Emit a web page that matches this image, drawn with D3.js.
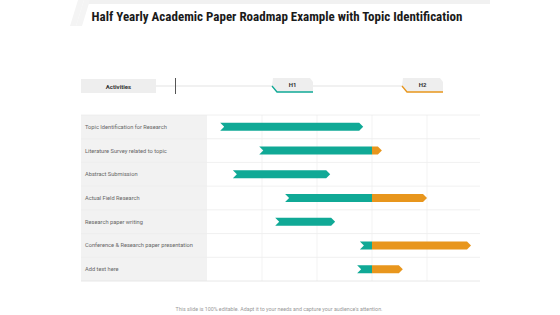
<!DOCTYPE html>
<html>
<head>
<meta charset="utf-8">
<script src="https://cdn.jsdelivr.net/npm/d3@7"></script>
<style>
  body { margin: 0; background: #fff; }
  svg { display: block; }
</style>
</head>
<body>
<div id="chart"></div>
<script>
// Data (timeline measured in grid columns, H1 ends at column 3)
const activities = [
    "Topic Identification for Research",
    "Literature Survey related to topic",
    "Abstract Submission",
    "Actual Field Research",
    "Research paper writing",
    "Conference & Research paper presentation",
    "Add text here"
];
const startValues = [0.24, 0.95, 0.47, 1.42, 1.24, 2.78, 2.73];
const endValues = [2.84, 3.18, 2.24, 4.0, 2.33, 4.8, 3.56];
const halves = ["H1", "H2"];
const halfSplit = 3;

const width = 560, height = 315;
const teal = "#10a996", orange = "#e8961d";

const svg = d3.select("#chart").append("svg")
    .attr("width", width)
    .attr("height", height);

// top banner + faint stripes
svg.append("rect")
    .attr("x", 84).attr("y", 0)
    .attr("width", 406).attr("height", 4)
    .attr("fill", "#f1f1f1");
[0, 6].forEach(off => {
    svg.append("path")
        .attr("d", `M${78 + off},0 L${84 + off},0 L${76 + off},26 L${70 + off},26 Z`)
        .attr("fill", "#f4f4f4");
});

// title
svg.append("text")
    .attr("x", 277).attr("y", 21)
    .attr("text-anchor", "middle")
    .style("font-family", "'Liberation Sans Narrow', 'Roboto Condensed', sans-serif")
    .style("font-weight", "bold")
    .style("font-size", "13px")
    .attr("fill", "#1a1a1a")
    .text("Half Yearly Academic Paper Roadmap Example with Topic Identification");

// scales
const x = d3.scaleLinear().domain([0, 5]).range([207, 482]);
const y = d3.scaleBand().domain(activities).range([115, 281]);

// header row
svg.append("line")
    .attr("x1", 156).attr("x2", 402).attr("y1", 86).attr("y2", 86)
    .attr("stroke", "#dcdcdc").attr("stroke-width", 0.8);
svg.append("rect")
    .attr("x", 81).attr("y", 79).attr("width", 75).attr("height", 14)
    .attr("fill", "#eeeeee");
svg.append("text")
    .attr("x", 118.5).attr("y", 88.5)
    .attr("text-anchor", "middle")
    .style("font-family", "Roboto, sans-serif")
    .style("font-weight", "bold")
    .style("font-size", "6px")
    .attr("fill", "#333")
    .text("Activities");
svg.append("line")
    .attr("x1", 175.5).attr("x2", 175.5).attr("y1", 78).attr("y2", 94)
    .attr("stroke", "#555").attr("stroke-width", 1);

const tagX = [272, 402];
const tagColors = [teal, orange];
halves.forEach((h, i) => {
    const tx = tagX[i];
    const g = svg.append("g").attr("transform", `translate(${tx},78)`);
    g.append("path")
        .attr("d", "M1,0 L38,0 L41,4 L41,14 L5,14 L0,8 Z")
        .attr("fill", "#eeeeee");
    g.append("path")
        .attr("d", "M0,8 L5,14 L41,14")
        .attr("fill", "none")
        .attr("stroke", tagColors[i])
        .attr("stroke-width", 1.3);
    g.append("text")
        .attr("x", 20.5).attr("y", 9)
        .attr("text-anchor", "middle")
        .style("font-family", "Roboto, sans-serif")
        .style("font-weight", "bold")
        .style("font-size", "6px")
        .attr("fill", "#333")
        .text(h);
});

// table background
svg.selectAll(".labelbg")
    .data(activities)
    .enter().append("rect")
    .attr("class", "labelbg")
    .attr("x", 81)
    .attr("y", d => y(d))
    .attr("width", 126)
    .attr("height", y.bandwidth())
    .attr("fill", "#f2f2f2");

// vertical grid
svg.selectAll(".vgrid")
    .data(d3.range(1, 5))
    .enter().append("line")
    .attr("class", "vgrid")
    .attr("x1", d => x(d)).attr("x2", d => x(d))
    .attr("y1", 115).attr("y2", 281)
    .attr("stroke", "#f0f0f0").attr("stroke-width", 0.8);

// horizontal grid
svg.selectAll(".hgrid")
    .data(d3.range(activities.length + 1))
    .enter().append("line")
    .attr("class", "hgrid")
    .attr("x1", 81).attr("x2", 480)
    .attr("y1", d => 115 + d * y.step())
    .attr("y2", d => 115 + d * y.step())
    .attr("stroke", d => d === activities.length ? "#e2e2e2" : "#ececec")
    .attr("stroke-width", 0.8);

// labels
svg.selectAll(".label")
    .data(activities)
    .enter().append("text")
    .attr("class", "label")
    .attr("x", 85)
    .attr("y", d => y(d) + y.bandwidth() / 2 + 2)
    .style("font-family", "Roboto, sans-serif")
    .style("font-size", "5.7px")
    .attr("fill", "#666")
    .text(d => d);

// bars
const barH = 8, tip = 4;
const bars = activities.map((a, i) => ({
    a, start: startValues[i], end: endValues[i]
}));

function segPath(x0, x1, yc, notchLeft, arrowRight) {
    const t = yc - barH / 2, b = yc + barH / 2;
    let p = `M${x0},${t}`;
    p += arrowRight ? ` L${x1 - tip},${t} L${x1},${yc} L${x1 - tip},${b}` : ` L${x1},${t} L${x1},${b}`;
    p += ` L${x0},${b}`;
    if (notchLeft) p += ` L${x0 + tip},${yc}`;
    return p + " Z";
}

bars.forEach(d => {
    const yc = y(d.a) + y.bandwidth() / 2;
    const tealEnd = Math.min(d.end, halfSplit);
    svg.append("path")
        .attr("d", segPath(x(d.start), x(tealEnd), yc, true, d.end <= halfSplit))
        .attr("fill", teal);
    if (d.end > halfSplit) {
        svg.append("path")
            .attr("d", segPath(x(halfSplit), x(d.end), yc, false, true))
            .attr("fill", orange);
    }
});

// footer
svg.append("text")
    .attr("x", 279).attr("y", 311)
    .attr("text-anchor", "middle")
    .style("font-family", "Roboto, sans-serif")
    .style("font-size", "5.3px")
    .attr("fill", "#999")
    .text("This slide is 100% editable. Adapt it to your needs and capture your audience's attention.");
</script>
</body>
</html>
